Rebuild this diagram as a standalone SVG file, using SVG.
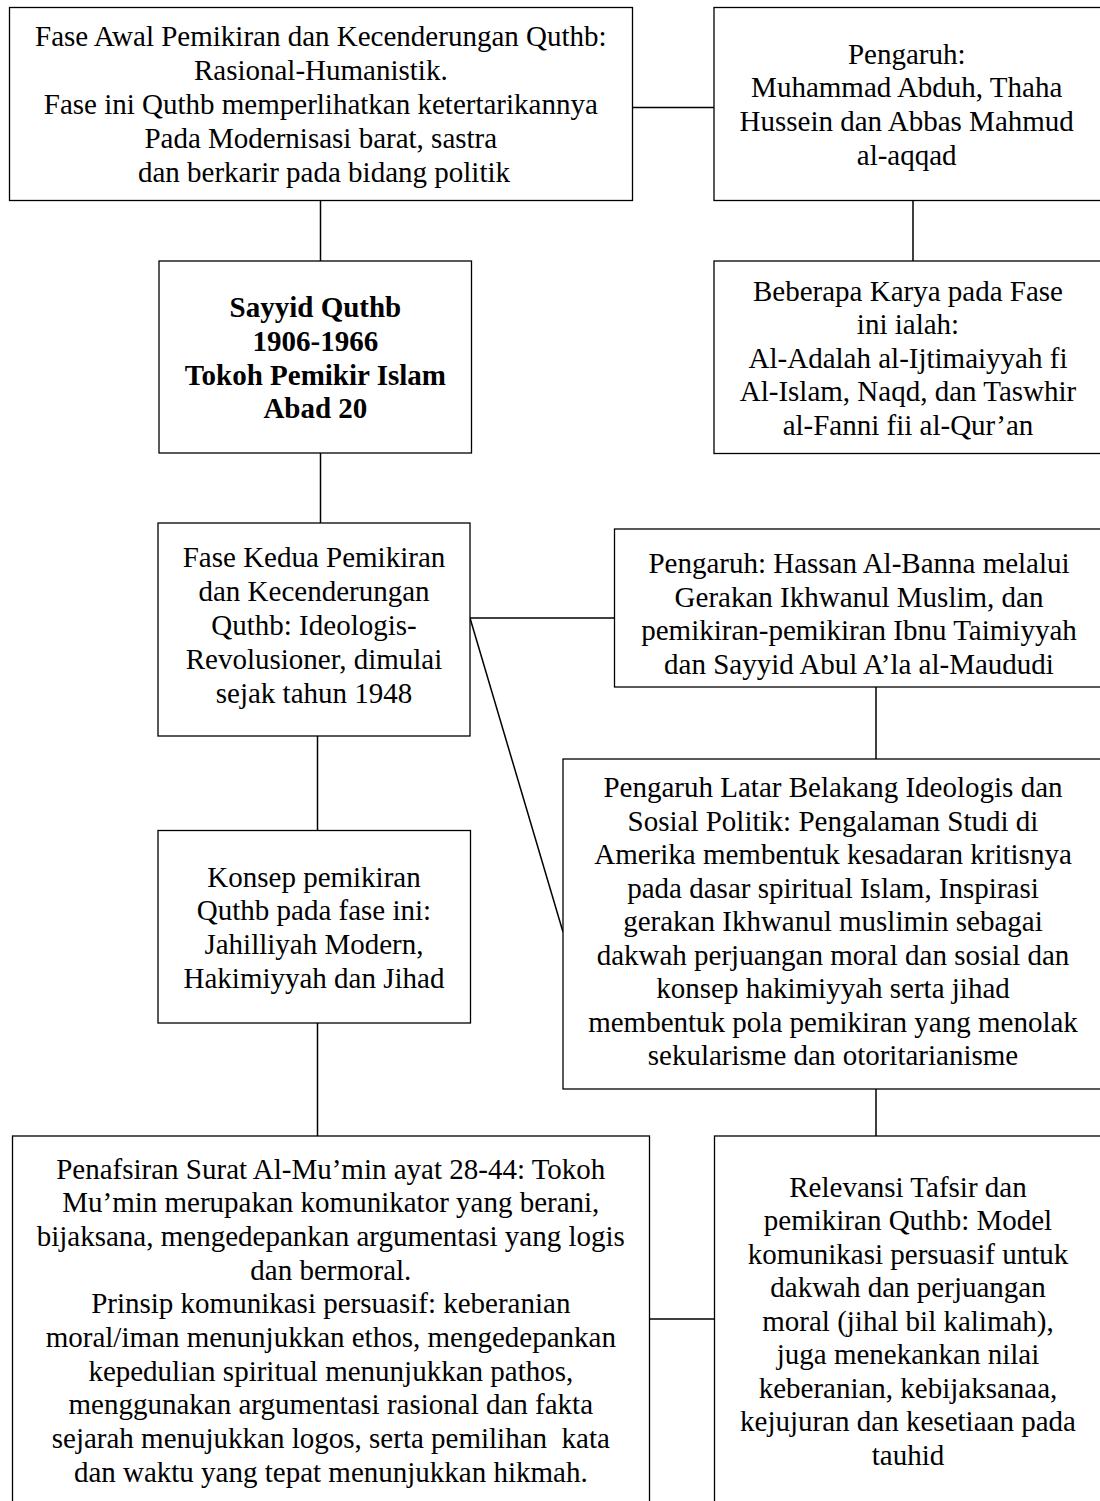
<svg xmlns="http://www.w3.org/2000/svg" width="1100" height="1501" viewBox="0 0 1100 1501">
<style>
.box{fill:#fff;stroke:#000;stroke-width:1.3}
.conn{fill:none;stroke:#000;stroke-width:1.5}
text{font-family:"Liberation Serif","Times New Roman",serif;font-size:29px;fill:#000;text-anchor:middle}
.b{font-weight:bold}
</style>
<rect width="1100" height="1501" fill="#fff"/>
<g id="connectors">
<path class="conn" d="M632.5 107.5 H714"/>
<path class="conn" d="M913 200.5 V261"/>
<path class="conn" d="M320.5 200.5 V261"/>
<path class="conn" d="M320.5 453 V523"/>
<path class="conn" d="M317.5 736 V830"/>
<path class="conn" d="M317.5 1023 V1136"/>
<path class="conn" d="M470 618 H614.5"/>
<path class="conn" d="M470 618 L563 932"/>
<path class="conn" d="M876 687 V759"/>
<path class="conn" d="M876 1089 V1136"/>
<path class="conn" d="M649.5 1319 H714.5"/>
</g>
<g id="fase-awal">
<rect class="box" x="9.5" y="7.5" width="623" height="193"/>
<text x="320.8" y="46">Fase Awal Pemikiran dan Kecenderungan Quthb:</text>
<text x="320.8" y="79.9">Rasional-Humanistik.</text>
<text x="320.8" y="113.8">Fase ini Quthb memperlihatkan ketertarikannya</text>
<text x="320.8" y="147.7">Pada Modernisasi barat, sastra</text>
<text x="324" y="181.6">dan berkarir pada bidang politik</text>
</g>
<g id="pengaruh-awal">
<rect class="box" x="714" y="7.5" width="390" height="193"/>
<text x="906.7" y="63.5">Pengaruh:</text>
<text x="906.7" y="97.3">Muhammad Abduh, Thaha</text>
<text x="906.7" y="131.1">Hussein dan Abbas Mahmud</text>
<text x="906.7" y="164.9">al-aqqad</text>
</g>
<g id="karya">
<rect class="box" x="714" y="261" width="390" height="192.5"/>
<text x="908" y="300.5">Beberapa Karya pada Fase</text>
<text x="908" y="334.1">ini ialah:</text>
<text x="908" y="367.7">Al-Adalah al-Ijtimaiyyah fi</text>
<text x="908" y="401.3">Al-Islam, Naqd, dan Taswhir</text>
<text x="908" y="434.9">al-Fanni fii al-Qur’an</text>
</g>
<g id="sayyid">
<rect class="box" x="159" y="261" width="312.5" height="192"/>
<text class="b" x="315.4" y="317">Sayyid Quthb</text>
<text class="b" x="315.4" y="350.8">1906-1966</text>
<text class="b" x="315.4" y="384.6">Tokoh Pemikir Islam</text>
<text class="b" x="315.4" y="418.4">Abad 20</text>
</g>
<g id="fase-kedua">
<rect class="box" x="158" y="523" width="312" height="213"/>
<text x="314" y="567">Fase Kedua Pemikiran</text>
<text x="314" y="601">dan Kecenderungan</text>
<text x="314" y="635">Quthb: Ideologis-</text>
<text x="314" y="669">Revolusioner, dimulai</text>
<text x="314" y="703">sejak tahun 1948</text>
</g>
<g id="konsep">
<rect class="box" x="158" y="830.5" width="312.5" height="192.5"/>
<text x="314" y="886.5">Konsep pemikiran</text>
<text x="314" y="920.3">Quthb pada fase ini:</text>
<text x="314" y="954.1">Jahilliyah Modern,</text>
<text x="314" y="987.9">Hakimiyyah dan Jihad</text>
</g>
<g id="pengaruh-kedua">
<rect class="box" x="614.5" y="529" width="490" height="158"/>
<text x="859" y="573">Pengaruh: Hassan Al-Banna melalui</text>
<text x="859" y="606.5">Gerakan Ikhwanul Muslim, dan</text>
<text x="859" y="640">pemikiran-pemikiran Ibnu Taimiyyah</text>
<text x="859" y="673.5">dan Sayyid Abul A’la al-Maududi</text>
</g>
<g id="latar-belakang">
<rect class="box" x="563" y="759" width="540" height="330"/>
<text x="833" y="797">Pengaruh Latar Belakang Ideologis dan</text>
<text x="833" y="830.5">Sosial Politik: Pengalaman Studi di</text>
<text x="833" y="864">Amerika membentuk kesadaran kritisnya</text>
<text x="833" y="897.5">pada dasar spiritual Islam, Inspirasi</text>
<text x="833" y="931">gerakan Ikhwanul muslimin sebagai</text>
<text x="833" y="964.5">dakwah perjuangan moral dan sosial dan</text>
<text x="833" y="998">konsep hakimiyyah serta jihad</text>
<text x="833" y="1031.5">membentuk pola pemikiran yang menolak</text>
<text x="833" y="1065">sekularisme dan otoritarianisme</text>
</g>
<g id="penafsiran">
<rect class="box" x="12.5" y="1136" width="637" height="370"/>
<text x="330.8" y="1178.5">Penafsiran Surat Al-Mu’min ayat 28-44: Tokoh</text>
<text x="330.8" y="1212.2">Mu’min merupakan komunikator yang berani,</text>
<text x="330.8" y="1245.9">bijaksana, mengedepankan argumentasi yang logis</text>
<text x="330.8" y="1279.6">dan bermoral.</text>
<text x="330.8" y="1313.3">Prinsip komunikasi persuasif: keberanian</text>
<text x="330.8" y="1347">moral/iman menunjukkan ethos, mengedepankan</text>
<text x="330.8" y="1380.7">kepedulian spiritual menunjukkan pathos,</text>
<text x="330.8" y="1414.4">menggunakan argumentasi rasional dan fakta</text>
<text x="330.8" y="1448.1">sejarah menujukkan logos, serta pemilihan&#160; kata</text>
<text x="330.8" y="1481.8">dan waktu yang tepat menunjukkan hikmah.</text>
</g>
<g id="relevansi">
<rect class="box" x="714.5" y="1136" width="390" height="370"/>
<text x="908" y="1196.7">Relevansi Tafsir dan</text>
<text x="908" y="1230.2">pemikiran Quthb: Model</text>
<text x="908" y="1263.7">komunikasi persuasif untuk</text>
<text x="908" y="1297.2">dakwah dan perjuangan</text>
<text x="908" y="1330.7">moral (jihal bil kalimah),</text>
<text x="908" y="1364.2">juga menekankan nilai</text>
<text x="908" y="1397.7">keberanian, kebijaksanaa,</text>
<text x="908" y="1431.2">kejujuran dan kesetiaan pada</text>
<text x="908" y="1464.7">tauhid</text>
</g>
</svg>
